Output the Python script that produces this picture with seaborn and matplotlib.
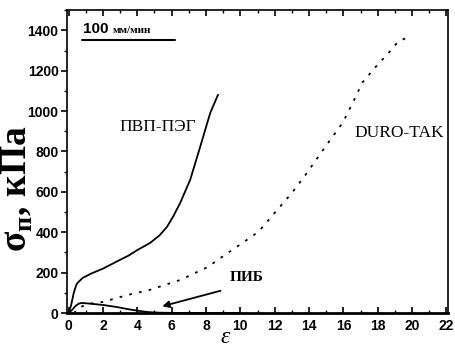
import matplotlib
matplotlib.use("Agg")
import matplotlib.pyplot as plt
import seaborn as sns
import pandas as pd
from matplotlib.ticker import MultipleLocator

# Data
pvp_x = [0.0, 0.15, 0.3, 0.45, 0.55, 0.82, 1.3, 2.0, 2.8, 3.5, 4.0, 4.74, 5.3, 5.73, 6.1, 6.5, 7.08, 7.66, 8.25, 8.7]
pvp_y = [0, 40, 100, 140, 152, 174, 195, 220, 255, 285, 312, 347, 385, 427, 480, 546, 660, 823, 992, 1081]

duro_x = [0.3, 0.6, 1.0, 1.5, 2.0, 3.4, 4.7, 6.5, 8.1, 9.1, 10.0, 11.05, 12.0, 13.0, 13.8, 14.95, 15.96, 16.55, 17.1, 17.9, 18.65, 19.2, 19.75]
duro_y = [0, 25, 42, 50, 55, 89, 114, 164, 228, 288, 340, 402, 496, 595, 685, 824, 943, 1042, 1141, 1221, 1290, 1345, 1365]

pib_x = [0.0, 0.2, 0.4, 0.6, 0.76, 1.2, 2.0, 2.8, 3.4, 4.0, 4.6, 5.2, 6.0, 8.0, 10.0]
pib_y = [0, 15, 35, 47, 50, 47, 40, 30, 20, 12, 5, 2, 1, 0, 0]

x_ticks = [0, 2, 4, 6, 8, 10, 12, 14, 16, 18, 20, 22]
y_ticks = [0, 200, 400, 600, 800, 1000, 1200, 1400]

label_pvp = "ПВП-ПЭГ"
label_duro = "DURO-TAK"
label_pib = "ПИБ"
speed_num = "100"
speed_unit = "мм/мин"

sns.set_theme(style="ticks")
plt.rcParams['font.family'] = ['Liberation Sans', 'DejaVu Sans']
for k in ['text.color', 'axes.labelcolor', 'xtick.color', 'ytick.color', 'axes.edgecolor']:
    plt.rcParams[k] = 'black'

fig = plt.figure(figsize=(4.55, 3.49), dpi=100)
ax = fig.add_axes([0.147, 0.103, 0.838, 0.868])

df_pvp = pd.DataFrame({"x": pvp_x, "y": pvp_y})
df_duro = pd.DataFrame({"x": duro_x, "y": duro_y})
df_pib = pd.DataFrame({"x": pib_x, "y": pib_y})

sns.lineplot(data=df_pvp, x="x", y="y", ax=ax, color="black", lw=1.3, sort=False)
sns.lineplot(data=df_pib, x="x", y="y", ax=ax, color="black", lw=1.3, sort=False)
sns.lineplot(data=df_duro, x="x", y="y", ax=ax, color="black", lw=1.3, sort=False,
             linestyle=(0, (1.5, 4)))

ax.set_xlim(-0.1, 22.1)
ax.set_ylim(0, 1500)
ax.set_xticks(x_ticks)
ax.set_yticks(y_ticks)
ax.xaxis.set_minor_locator(MultipleLocator(1))
ax.yaxis.set_minor_locator(MultipleLocator(100))
ax.tick_params(axis='x', which='both', direction='in', top=True, labelsize=10, pad=4)
ax.tick_params(axis='y', which='both', direction='out', right=False, labelsize=10, pad=2)
ax.tick_params(which='major', length=4, width=1.2, color='black')
ax.tick_params(which='minor', length=2, width=1.0, color='black')
for lab in ax.get_xticklabels() + ax.get_yticklabels():
    lab.set_fontweight('bold')
for s in ax.spines.values():
    s.set_visible(True)
    s.set_linewidth(1.2)
    s.set_color('black')
ax.spines['bottom'].set_linewidth(2.0)

serif = ['Liberation Serif', 'DejaVu Serif']
ax.set_xlabel("ε", fontsize=17, fontstyle='italic', family=serif)
ax.xaxis.set_label_coords(0.415, -0.045)
ax.set_ylabel("σ$_{\\mathregular{п}}$, кПа", fontsize=27, fontweight='bold',
              family=serif)
ax.yaxis.set_label_coords(-0.084, 0.41)

ax.text(5.2, 922, label_pvp, fontsize=12.5, family=serif, ha='center', va='center')
ax.text(19.25, 893, label_duro, fontsize=12.5, family=serif, ha='center', va='center')
ax.text(10.35, 174, label_pib, fontsize=11, family=serif, ha='center', va='center', fontweight='bold')

ax.annotate("", xy=(5.3, 30), xytext=(9.0, 114),
            arrowprops=dict(arrowstyle='-|>', color='black', lw=1.3, mutation_scale=10))

ax.text(0.85, 1405, speed_num, fontsize=11, fontweight='bold', ha='left', va='center')
ax.text(2.55, 1400, speed_unit, fontsize=8, fontweight='bold', ha='left', va='center',
        family=serif)
ax.plot([0.8, 6.2], [1350, 1350], color='black', lw=1.5)

fig.savefig("out.png", dpi=100)
